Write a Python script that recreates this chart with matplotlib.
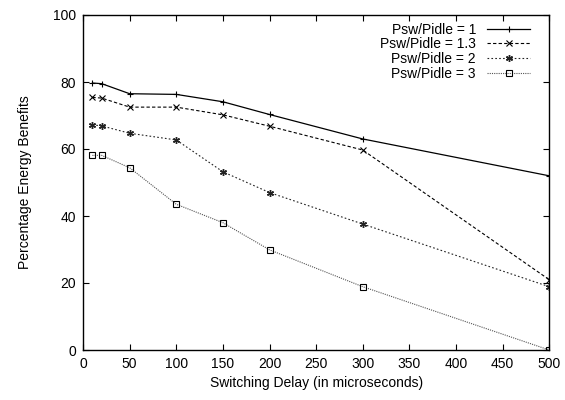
import numpy as np
import matplotlib
matplotlib.use("Agg")
import matplotlib.pyplot as plt

plt.rcParams['font.family'] = ['Liberation Sans', 'DejaVu Sans']

# switching delay (microseconds)
delay = [10, 20, 50, 100, 150, 200, 300, 500]

# percentage energy benefits per Psw/Pidle ratio
ratio_1 = [79.7, 79.5, 76.5, 76.3, 74.1, 70.3, 63.0, 52.0]
ratio_13 = [75.4, 75.2, 72.5, 72.5, 70.2, 66.8, 59.7, 21.0]
ratio_2 = [67.2, 66.9, 64.7, 62.7, 53.2, 47.0, 37.6, 18.9]
ratio_3 = [58.1, 58.1, 54.4, 43.5, 38.0, 29.9, 18.9, 0.0]

labels = ['Psw/Pidle = 1', 'Psw/Pidle = 1.3', 'Psw/Pidle = 2', 'Psw/Pidle = 3']

fig = plt.figure(figsize=(5.65, 4), dpi=100)
ax = fig.add_axes([0.147, 0.125, 0.825, 0.8375])

ax.plot(delay, ratio_1, color='black', lw=0.9, ls='-', marker='+', ms=5, mew=0.8, label=labels[0])
ax.plot(delay, ratio_13, color='black', lw=0.8, ls=(0, (3, 2)), marker='x', ms=4, mew=0.8, label=labels[1])
ax.plot(delay, ratio_2, color='#222222', lw=0.8, ls=(0, (1.5, 2)), marker=(6, 2, 0), ms=5, mew=1.0, label=labels[2])
ax.plot(delay, ratio_3, color='#555555', lw=0.8, ls=(0, (1, 1)), marker='s', ms=4.5, mfc='none', mec='black', mew=0.8, label=labels[3])

ax.set_xlim(0, 500)
ax.set_ylim(0, 100)
ax.set_xticks(np.arange(0, 501, 50))
ax.set_yticks(np.arange(0, 101, 20))
ax.tick_params(direction='in', top=True, right=True, labelsize=10, length=4, width=0.8, pad=5)
for s in ax.spines.values():
    s.set_linewidth(1.0)

ax.set_xlabel('Switching Delay (in microseconds)', fontsize=10, labelpad=4)
ax.set_ylabel('Percentage Energy Benefits', fontsize=10, labelpad=15)

leg = ax.legend(loc='upper right', bbox_to_anchor=(0.971, 0.994), frameon=False,
                markerfirst=False, fontsize=10, handlelength=3.1, labelspacing=0.05,
                borderaxespad=0, handletextpad=0.8)

fig.savefig('out.png', dpi=100)
